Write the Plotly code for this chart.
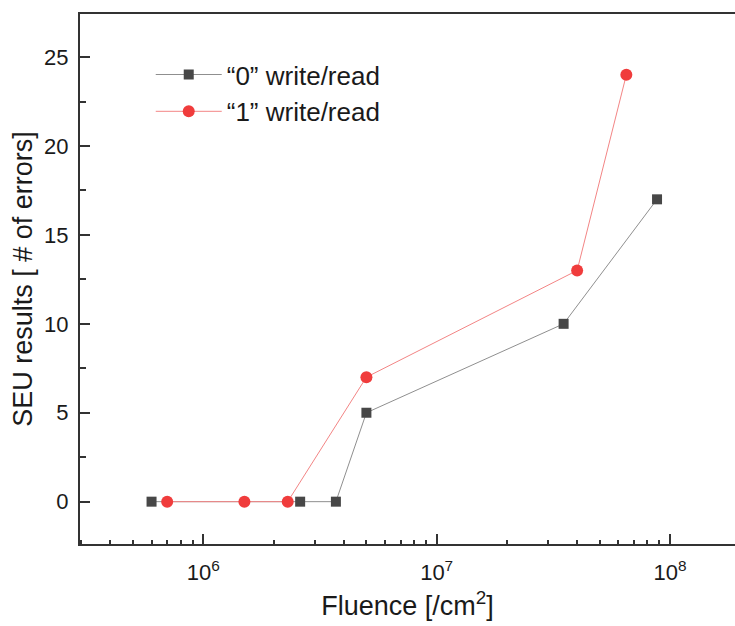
import plotly.graph_objects as go

# SEU error counts versus fluence for the two written data patterns
fluence_0 = [6.0e5, 2.6e6, 3.7e6, 5.0e6, 3.5e7, 8.8e7]
errors_0 = [0, 0, 0, 5, 10, 17]
fluence_1 = [7.0e5, 1.5e6, 2.3e6, 5.0e6, 4.0e7, 6.5e7]
errors_1 = [0, 0, 0, 7, 13, 24]

series_names = ["\u201c0\u201d write/read", "\u201c1\u201d write/read"]

x_major = [1e6, 1e7, 1e8]
x_major_text = ["10<sup>6</sup>", "10<sup>7</sup>", "10<sup>8</sup>"]
x_minor = [m * 10 ** e for e in (5, 6, 7, 8) for m in range(2, 10)]
y_major = [0, 5, 10, 15, 20, 25]

FONT = "Liberation Sans, Arial, Helvetica, sans-serif"
AXIS_COLOR = "#333333"

fig = go.Figure()
fig.add_trace(go.Scatter(
    x=fluence_0, y=errors_0, name=series_names[0], mode="lines+markers",
    line=dict(color="#8f8f8f", width=1),
    marker=dict(symbol="square", size=10, color="#474747"),
))
fig.add_trace(go.Scatter(
    x=fluence_1, y=errors_1, name=series_names[1], mode="lines+markers",
    line=dict(color="#f38585", width=1),
    marker=dict(symbol="circle", size=12, color="#f03c3c"),
))

fig.update_layout(
    width=735, height=626,
    margin=dict(l=80, r=0, t=14, b=82),
    paper_bgcolor="white", plot_bgcolor="white",
    font=dict(family=FONT, color="#1a1a1a"),
    showlegend=True,
    legend=dict(
        x=0.108, y=0.93, xanchor="left", yanchor="top",
        bgcolor="rgba(0,0,0,0)", borderwidth=0,
        font=dict(size=26, family=FONT, color="#1a1a1a"),
        itemwidth=66, tracegroupgap=0,
    ),
)

fig.update_xaxes(
    type="log", range=[5.4715, 8.2786],
    showgrid=False, zeroline=False,
    showline=True, linecolor=AXIS_COLOR, linewidth=2, mirror=True,
    ticks="inside", ticklen=10, tickwidth=1.5, tickcolor=AXIS_COLOR,
    tickvals=x_major, ticktext=x_major_text,
    ticklabelstandoff=8,
    tickfont=dict(size=22, family=FONT, color="#1a1a1a"),
    minor=dict(tickvals=x_minor, ticks="inside", ticklen=4, tickwidth=1.5,
               tickcolor=AXIS_COLOR, showgrid=False),
    title=dict(text="Fluence [/cm<sup>2</sup>]", font=dict(size=27, family=FONT, color="#1a1a1a"),
               standoff=12),
)

fig.update_yaxes(
    range=[-2.38, 27.42],
    showgrid=False, zeroline=False,
    showline=True, linecolor=AXIS_COLOR, linewidth=2, mirror=False,
    ticks="inside", ticklen=10, tickwidth=1.5, tickcolor=AXIS_COLOR,
    tickvals=y_major,
    ticklabelstandoff=5,
    tickfont=dict(size=22, family=FONT, color="#1a1a1a"),
    minor=dict(dtick=2.5, tick0=0, ticks="inside", ticklen=6, tickwidth=1.5,
               tickcolor=AXIS_COLOR, showgrid=False),
    title=dict(text="SEU results [ # of errors]", font=dict(size=27, family=FONT, color="#1a1a1a"),
               standoff=4),
)

fig.write_html("out.html")
